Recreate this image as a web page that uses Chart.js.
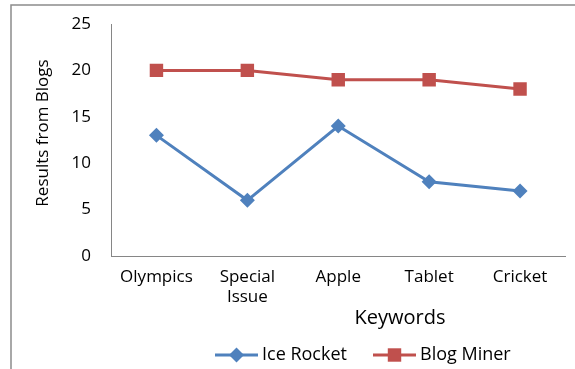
<!DOCTYPE html>
<html>
<head>
<meta charset="UTF-8">
<script src="https://cdn.jsdelivr.net/npm/chart.js"></script>
<style>
  html, body { margin: 0; padding: 0; background: #fff; }
  #wrap { width: 575px; height: 369px; }
</style>
</head>
<body>
<div id="wrap"><canvas id="blogChart" width="575" height="369"></canvas></div>
<script>
    // values
    const keywords = [['Olympics'], ['Special', 'Issue'], ['Apple'], ['Tablet'], ['Cricket']];
    const iceRocket = [13, 6, 14, 8, 7];
    const blogMiner = [20, 20, 19, 19, 18];
    const yTicks = [0, 5, 10, 15, 20, 25];

    const FONT = '"Open Sans", "DejaVu Sans", sans-serif';
    const BLUE = '#4F81BD';
    const RED = '#C0504D';

    // frame, axis titles and legend drawn around the plot
    const extras = {
        id: 'extras',
        beforeDraw(chart) {
            const ctx = chart.ctx;
            ctx.save();
            ctx.strokeStyle = '#8c8c8c';
            ctx.lineWidth = 1.5;
            ctx.strokeRect(11, 5, 700, 500);
            ctx.restore();
        },
        afterDraw(chart) {
            const ctx = chart.ctx;
            ctx.save();
            ctx.fillStyle = '#000';
            ctx.textAlign = 'center';
            ctx.textBaseline = 'middle';

            ctx.font = '17px ' + FONT;
            ctx.save();
            ctx.translate(43, 133);
            ctx.rotate(-Math.PI / 2);
            ctx.fillText('Results from Blogs', 0, 0);
            ctx.restore();

            ctx.font = '20px ' + FONT;
            ctx.fillText('Keywords', 400, 318);

            const y = 355;
            const items = [
                { x: 215, label: 'Ice Rocket', ds: chart.data.datasets[0] },
                { x: 373, label: 'Blog Miner', ds: chart.data.datasets[1] }
            ];
            ctx.font = '18px ' + FONT;
            ctx.textAlign = 'left';
            items.forEach(it => {
                ctx.strokeStyle = it.ds.borderColor;
                ctx.lineWidth = 3;
                ctx.beginPath();
                ctx.moveTo(it.x, y);
                ctx.lineTo(it.x + 43, y);
                ctx.stroke();
                ctx.fillStyle = it.ds.borderColor;
                Chart.helpers.drawPoint(ctx, {
                    pointStyle: it.ds.pointStyle,
                    radius: it.ds.pointRadius,
                    borderWidth: 0
                }, it.x + 21.5, y);
                ctx.fillStyle = '#000';
                ctx.fillText(it.label, it.x + 47, y);
            });
            ctx.restore();
        }
    };

    new Chart(document.getElementById('blogChart'), {
        type: 'line',
        data: {
            labels: keywords,
            datasets: [{
                label: 'Ice Rocket',
                data: iceRocket,
                borderColor: BLUE,
                backgroundColor: BLUE,
                borderWidth: 3,
                pointStyle: 'rectRot',
                pointRadius: 7.5,
                pointHoverRadius: 7.5,
                pointBorderWidth: 0,
                fill: false
            }, {
                label: 'Blog Miner',
                data: blogMiner,
                borderColor: RED,
                backgroundColor: RED,
                borderWidth: 3,
                pointStyle: 'rect',
                pointRadius: 9.5,
                pointHoverRadius: 9.5,
                pointBorderWidth: 0,
                fill: false
            }]
        },
        options: {
            responsive: false,
            animation: false,
            layout: { padding: { top: 24, right: 7, bottom: 0, left: 0 } },
            plugins: {
                legend: { display: false },
                tooltip: { enabled: false }
            },
            scales: {
                x: {
                    offset: true,
                    grid: { display: false, drawTicks: false },
                    border: { color: '#868686', width: 1 },
                    ticks: {
                        color: '#000',
                        padding: 11,
                        maxRotation: 0,
                        autoSkip: false,
                        font: { family: FONT, size: 17 }
                    },
                    afterFit(scale) { scale.height = 113; }
                },
                y: {
                    min: 0,
                    max: 25,
                    afterBuildTicks(scale) { scale.ticks = yTicks.map(v => ({ value: v })); },
                    // gap between labels and axis comes from an invisible tick length
                    grid: { display: false, drawTicks: true, tickLength: 20 },
                    border: { color: '#868686', width: 1 },
                    ticks: {
                        color: '#000',
                        padding: 0,
                        font: { family: FONT, size: 17 }
                    },
                    afterFit(scale) { scale.width = 111; }
                }
            }
        },
        plugins: [extras]
    });
</script>
</body>
</html>
